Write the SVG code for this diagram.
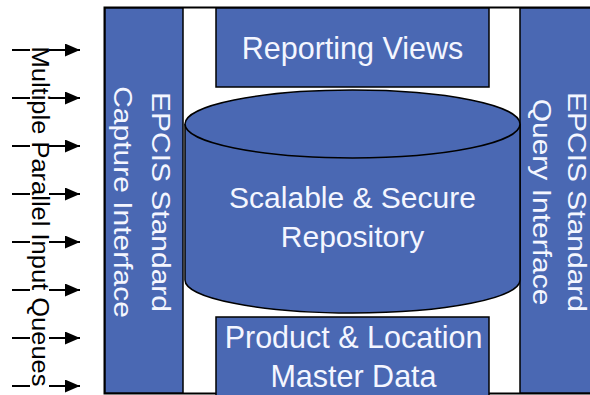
<svg xmlns="http://www.w3.org/2000/svg" width="590" height="395" viewBox="0 0 590 395">
<style>
.blue{fill:#4A68B3;stroke:#000;stroke-width:1.5}
.lbl{font-family:"Liberation Sans",Arial,sans-serif;fill:#F4F6FF;text-anchor:middle}
.side{font-family:"Liberation Sans",Arial,sans-serif;fill:#000;text-anchor:middle}
.arr{stroke:#000;stroke-width:2;fill:none}
</style>
<defs>
<marker id="ah" markerUnits="userSpaceOnUse" markerWidth="16" markerHeight="14" refX="15" refY="6.5" orient="auto">
<path d="M0,0 L15,6.5 L0,13 Z" fill="#000"/>
</marker>
</defs>
<rect width="590" height="395" fill="#fff"/>
<rect x="104.5" y="7.5" width="500" height="386" fill="#fff" stroke="#000" stroke-width="2"/>
<g id="capture">
<rect class="blue" x="105" y="8" width="78" height="385"/>
<text class="lbl" font-size="30" transform="translate(152,202) rotate(90) scale(1,0.87)">EPCIS Standard</text>
<text class="lbl" font-size="30" transform="translate(114,202) rotate(90) scale(1,0.87)">Capture Interface</text>
</g>
<g id="query">
<rect class="blue" x="520" y="8" width="80" height="385"/>
<text class="lbl" font-size="30" transform="translate(568,202) rotate(90) scale(1,0.87)">EPCIS Standard</text>
<text class="lbl" font-size="30" transform="translate(533,202) rotate(90) scale(1,0.87)">Query Interface</text>
</g>
<g id="reporting">
<rect class="blue" x="216" y="8" width="273" height="79"/>
<text class="lbl" font-size="30.5" x="352.5" y="59">Reporting Views</text>
</g>
<g id="repository">
<path class="blue" d="M185,124 V280 A167.5,33 0 0 0 520,280 V124"/>
<ellipse class="blue" cx="352.5" cy="124" rx="167.5" ry="34"/>
<text class="lbl" font-size="30" x="352.5" y="208">Scalable &amp; Secure</text>
<text class="lbl" font-size="30" x="352.5" y="247">Repository</text>
</g>
<g id="masterdata">
<rect class="blue" x="216" y="317" width="273" height="90"/>
<text class="lbl" font-size="30.5" x="353.5" y="348">Product &amp; Location</text>
<text class="lbl" font-size="30.5" x="353.5" y="387">Master Data</text>
</g>
<g id="connectors">
<path class="arr" d="M12,50 H30 M49,50 H80" marker-end="url(#ah)"/>
<path class="arr" d="M12,98 H30 M49,98 H80" marker-end="url(#ah)"/>
<path class="arr" d="M12,146 H30 M49,146 H80" marker-end="url(#ah)"/>
<path class="arr" d="M12,194 H30 M49,194 H80" marker-end="url(#ah)"/>
<path class="arr" d="M12,242 H30 M49,242 H80" marker-end="url(#ah)"/>
<path class="arr" d="M12,290 H30 M49,290 H80" marker-end="url(#ah)"/>
<path class="arr" d="M12,338 H30 M49,338 H80" marker-end="url(#ah)"/>
<path class="arr" d="M12,386 H30 M49,386 H80" marker-end="url(#ah)"/>
</g>
<g id="queues">
<text class="side" font-size="25.5" transform="translate(32,216.5) rotate(90) scale(1,0.93)">Multiple Parallel Input Queues</text>
</g>
</svg>
